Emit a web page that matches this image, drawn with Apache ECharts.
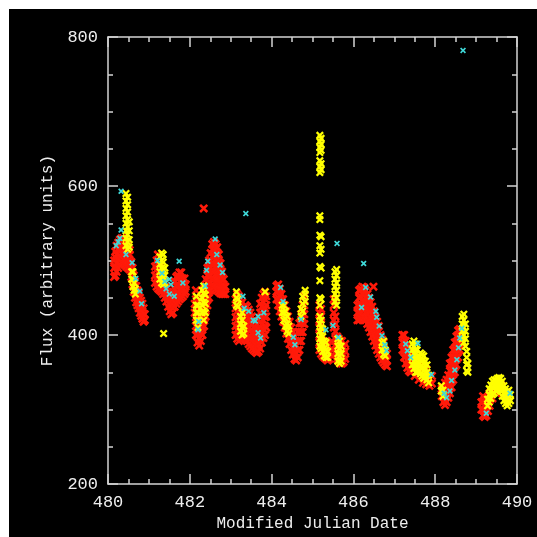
<!DOCTYPE html>
<html>
<head>
<meta charset="utf-8">
<script src="https://cdn.jsdelivr.net/npm/echarts@6/dist/echarts.min.js"></script>
<style>
  html, body { margin: 0; padding: 0; background: #fff; }
  #frame { position: absolute; left: 9px; top: 9px; width: 528px; height: 528px; background: #000; }
  #chart_flux { position: absolute; left: 0; top: 0; width: 537px; height: 537px; }
</style>
</head>
<body>
<div id="frame"></div>
<div id="chart_flux"></div>
<script>
  // each row: [MJD, flux, flux, ...]
  var redRows = [
    [480.15, 478, 490, 500], [480.18, 480, 492, 504, 512], [480.21, 485, 497, 508, 520],
    [480.25, 490, 502, 514, 524], [480.29, 495, 506, 518, 528], [480.33, 498, 510, 520, 530],
    [480.37, 496, 508, 518, 530], [480.41, 494, 504, 516, 528], [480.45, 492, 502, 512, 524],
    [480.49, 490, 500, 510, 520], [480.53, 488, 498, 508, 514], [480.57, 478, 488, 498],
    [480.60, 468, 478, 490], [480.63, 458, 468, 480], [480.66, 450, 460, 472],
    [480.69, 444, 454, 466], [480.72, 440, 450, 460], [480.75, 436, 446, 456],
    [480.78, 430, 440, 450], [480.81, 426, 436, 446], [480.84, 422, 432, 442],
    [480.87, 418, 428, 436], [480.90, 420, 428],
    [481.15, 470, 480, 492], [481.19, 465, 476, 488, 500], [481.23, 462, 472, 484, 496],
    [481.27, 460, 470, 480, 492], [481.31, 458, 468, 478], [481.35, 455, 465, 475],
    [481.39, 450, 460, 470], [481.43, 445, 455, 465], [481.47, 438, 448, 458],
    [481.51, 432, 442, 452], [481.55, 428, 438, 450], [481.59, 430, 442, 455],
    [481.63, 438, 450, 462, 472], [481.67, 442, 454, 466, 478], [481.71, 445, 456, 468, 480],
    [481.75, 448, 460, 472, 484], [481.79, 450, 462, 474, 484], [481.83, 452, 464, 476],
    [481.87, 455, 466, 476], [481.90, 458, 468],
    [482.12, 430, 442], [482.15, 400, 412, 424, 436, 448, 460], [482.19, 390, 400, 410, 420, 430, 440, 450],
    [482.23, 386, 396, 406, 416, 426], [482.27, 392, 402, 412, 422, 432], [482.31, 400, 410, 420, 430, 440, 450],
    [482.35, 412, 422, 432, 442, 452, 462], [482.39, 425, 435, 445, 455, 465, 475],
    [482.43, 440, 450, 460, 470, 480, 490], [482.47, 450, 460, 470, 480, 490, 500],
    [482.51, 460, 470, 480, 490, 500, 510], [482.55, 465, 475, 485, 495, 505, 515, 522],
    [482.59, 465, 475, 485, 495, 505, 515, 525], [482.63, 462, 472, 482, 492, 502, 512, 522],
    [482.67, 460, 470, 480, 490, 500, 510, 518], [482.71, 458, 468, 478, 488, 498, 508],
    [482.75, 456, 466, 476, 486, 496], [482.79, 455, 465, 475, 485], [482.83, 455, 465, 475],
    [482.87, 455, 465],
    [483.12, 400, 412, 424, 436, 448], [483.16, 395, 407, 420, 432, 444, 455], [483.20, 392, 404, 416, 428, 440, 452],
    [483.24, 394, 406, 418, 430, 442], [483.28, 396, 408, 420, 432, 444], [483.32, 398, 410, 422, 434],
    [483.36, 395, 406, 418, 430, 440], [483.40, 392, 402, 414, 426, 438], [483.44, 388, 398, 410, 422, 434],
    [483.48, 385, 395, 406, 418, 430], [483.52, 382, 392, 402, 414, 425], [483.56, 380, 390, 400, 410, 420],
    [483.60, 378, 388, 398, 408, 418], [483.64, 376, 386, 396, 406, 415], [483.68, 378, 388, 398, 408],
    [483.72, 382, 394, 406, 418, 430, 442], [483.76, 390, 402, 414, 426, 438, 450],
    [483.80, 396, 408, 420, 432, 444, 455], [483.84, 400, 412, 424, 436, 448, 458], [483.87, 410, 425, 440, 452],
    [484.12, 448, 458, 466], [484.16, 440, 450, 460, 468], [484.20, 432, 442, 452, 462],
    [484.24, 425, 435, 445, 455], [484.28, 418, 428, 438, 448], [484.32, 410, 420, 430, 440],
    [484.36, 402, 412, 422, 432], [484.40, 395, 405, 415, 425], [484.44, 388, 398, 408, 418],
    [484.48, 380, 390, 400, 410], [484.52, 374, 384, 394, 404], [484.56, 368, 378, 388, 398],
    [484.60, 366, 376, 386], [484.64, 370, 380, 392, 404], [484.68, 380, 392, 404, 416],
    [484.72, 392, 404, 416, 428], [484.76, 404, 416, 428, 440], [484.80, 415, 428, 440, 452],
    [485.17, 380, 390, 400, 410, 420, 430, 440], [485.21, 375, 385, 395, 405, 415, 425, 435],
    [485.25, 372, 382, 392], [485.29, 370, 380, 390], [485.33, 368, 378, 388], [485.37, 366, 374, 384],
    [485.41, 368, 378], [485.47, 372, 382, 392], [485.52, 410, 420, 430, 440, 448],
    [485.56, 375, 385, 395, 405, 415, 425], [485.60, 368, 378, 388, 398], [485.64, 365, 375, 385, 395],
    [485.68, 362, 372, 382, 392], [485.72, 362, 372, 382, 392], [485.76, 364, 374, 384], [485.80, 368, 378, 388],
    [486.10, 420, 430, 440], [486.14, 420, 430, 440, 450, 460], [486.18, 422, 432, 442, 452, 462],
    [486.22, 425, 435, 445, 455, 465], [486.26, 424, 434, 444, 454, 464], [486.30, 420, 430, 440, 450, 460],
    [486.34, 415, 425, 435, 445, 455], [486.38, 410, 420, 430, 440, 450], [486.42, 404, 414, 424, 434, 444],
    [486.46, 398, 408, 418, 428, 438], [486.50, 392, 402, 412, 422, 432], [486.54, 386, 396, 406, 416, 424],
    [486.58, 380, 390, 400, 410, 418], [486.62, 375, 385, 395, 405, 412], [486.66, 370, 380, 390, 400],
    [486.70, 366, 376, 386, 394], [486.74, 363, 372, 382, 390], [486.78, 360, 368, 378], [486.82, 358, 366, 375],
    [487.20, 380, 390, 400], [487.24, 370, 380, 390, 400], [487.28, 362, 372, 382, 392],
    [487.32, 356, 366, 376, 386], [487.36, 352, 362, 372], [487.40, 350, 360, 370],
    [487.50, 345, 355, 365], [487.60, 340, 350, 360], [487.70, 336, 346, 356],
    [487.78, 334, 344, 354], [487.86, 332, 342], [487.92, 335, 345],
    [488.16, 318, 328], [488.20, 310, 320, 330], [488.24, 306, 316, 326, 336],
    [488.28, 310, 320, 330, 340], [488.32, 316, 326, 336, 346], [488.36, 322, 332, 342, 352, 362],
    [488.40, 330, 340, 350, 360, 370], [488.44, 340, 350, 360, 370, 380], [488.48, 350, 360, 370, 380, 390],
    [488.52, 360, 370, 380, 390, 398], [488.56, 370, 380, 390, 400, 406], [488.60, 380, 390, 400, 408],
    [488.64, 390, 398, 406],
    [489.13, 300, 310], [489.17, 292, 300, 310, 318], [489.21, 290, 298, 306, 314],
    [489.25, 292, 300, 310], [489.29, 298, 306, 316], [489.33, 305, 314, 322],
    [489.40, 315, 325], [489.50, 322, 330], [489.62, 325, 332],
    [481.22, 508], [482.34, 570], [486.49, 465]
  ];

  var yellowRows = [
    [480.44, 520, 530, 540, 550, 560, 570, 580, 590], [480.48, 515, 525, 535, 545, 555, 565, 575, 585],
    [480.52, 518, 528, 540, 552], [480.58, 475, 485], [480.61, 465, 475, 485], [480.64, 460, 470],
    [480.67, 455, 462],
    [481.27, 475, 485, 495, 505], [481.31, 470, 480, 490, 500, 510], [481.35, 468, 478, 488, 498, 508],
    [481.39, 470, 480, 490], [481.36, 402],
    [482.16, 420, 430, 440, 452], [482.20, 410, 420, 430, 440], [482.30, 430, 440, 450, 460],
    [482.34, 420, 432, 444, 456, 466], [482.38, 430, 442, 454],
    [483.14, 440, 450, 458], [483.18, 438, 448], [483.24, 405, 415, 425], [483.28, 400, 410, 420, 430],
    [483.32, 402, 412], [483.84, 458],
    [484.26, 430, 440], [484.30, 420, 430, 440], [484.34, 412, 422, 432], [484.38, 405, 415, 425],
    [484.42, 402, 412], [484.72, 425, 435], [484.76, 432, 442, 452], [484.82, 445, 455, 460],
    [485.18, 668, 660, 652, 645, 634, 626, 618, 560, 555, 534, 520, 510, 492, 473, 450, 440, 425, 415, 405, 395, 385],
    [485.21, 664, 656, 648, 630, 622, 532, 515, 490, 448, 420, 410, 400, 390, 382],
    [485.25, 378, 388, 398, 408], [485.29, 372, 382, 392], [485.33, 370, 380, 390], [485.37, 370, 378],
    [485.55, 445, 455, 465, 475, 485], [485.59, 440, 450, 460, 470, 480, 488],
    [485.62, 365, 375, 385, 395], [485.66, 362, 372, 382, 392], [485.70, 365, 375, 385],
    [486.70, 380, 390], [486.74, 374, 384, 392], [486.78, 372, 380],
    [487.44, 360, 370, 380, 388], [487.48, 355, 365, 375, 385, 392], [487.52, 350, 360, 370, 380, 388],
    [487.56, 350, 360, 370, 380], [487.60, 352, 362, 372], [487.64, 348, 358, 368, 376],
    [487.68, 345, 355, 365, 374], [487.72, 342, 352, 362, 372], [487.76, 345, 355, 365],
    [487.80, 340, 350, 360], [487.84, 336, 346],
    [488.15, 325, 332], [488.19, 318, 326],
    [488.66, 395, 405, 415, 425], [488.70, 390, 400, 410, 420, 428], [488.74, 385, 395, 405, 415],
    [488.77, 352, 360, 370, 378], [488.80, 350, 362],
    [489.28, 305, 314], [489.32, 310, 320, 328], [489.36, 315, 325, 333], [489.40, 320, 330, 338],
    [489.44, 322, 332, 340], [489.48, 325, 334, 340], [489.52, 326, 335, 342], [489.56, 328, 336, 343],
    [489.60, 325, 334, 342], [489.64, 318, 328, 338], [489.68, 312, 322, 332], [489.72, 308, 318, 328],
    [489.76, 305, 314, 324], [489.80, 308, 318, 326], [489.84, 312, 320]
  ];

  var cyanPts = [
    [480.32, 593], [480.32, 541], [480.29, 530], [480.20, 520], [480.25, 525], [480.44, 508], [480.59, 497],
    [480.68, 476], [480.78, 459], [480.82, 442],
    [481.21, 500], [481.74, 499], [481.32, 483], [481.39, 472], [481.50, 475], [481.54, 468], [481.42, 462],
    [481.50, 455], [481.83, 470], [481.62, 452],
    [482.62, 529], [482.66, 508], [482.44, 499], [482.74, 494], [482.41, 487], [482.80, 484], [482.38, 466],
    [482.22, 418], [482.20, 407], [483.37, 563],
    [483.30, 452], [483.33, 436], [483.44, 432], [483.67, 425], [483.60, 419], [483.81, 430], [483.67, 403],
    [483.73, 396], [483.55, 420],
    [484.22, 464], [484.28, 445], [484.53, 397], [484.57, 387], [484.72, 421],
    [485.60, 523], [485.33, 407], [485.50, 413], [485.63, 397], [486.25, 496], [488.68, 782],
    [486.30, 464], [486.42, 451], [486.20, 437], [486.55, 432], [486.57, 424], [486.63, 412], [486.70, 399],
    [486.77, 387], [486.81, 379],
    [487.28, 388], [487.32, 379], [487.58, 389], [487.91, 347], [487.40, 370],
    [488.22, 322], [488.28, 316], [488.36, 325], [488.40, 339], [488.48, 353], [488.53, 367], [488.57, 383],
    [488.60, 396], [488.65, 409],
    [489.25, 295], [489.83, 322]
  ];

  var xTicks = { min: 480, max: 490, step: 2 };
  var yTicks = { min: 200, max: 800, step: 200 };

  function flatten (rows) {
    var out = [];
    rows.forEach(function (r) {
      for (var i = 1; i < r.length; i++) out.push([r[0], r[i]]);
    });
    return out;
  }

  var cross = 'path://M0,2L2,0L5,3L8,0L10,2L7,5L10,8L8,10L5,7L2,10L0,8L3,5Z';
  var axisColor = '#d4d4d4';
  var textColor = '#eeeeee';
  var font = 'Liberation Mono';

  function makeX (pos, withLabel) {
    return {
      type: 'value',
      position: pos,
      min: xTicks.min,
      max: xTicks.max,
      interval: xTicks.step,
      axisLine: { show: true, onZero: false, lineStyle: { color: axisColor, width: 1.5 } },
      axisTick: { show: true, inside: true, length: 10, lineStyle: { color: axisColor, width: 1.5 } },
      minorTick: { show: true, splitNumber: 4, length: 5, lineStyle: { color: axisColor, width: 1.5 } },
      splitLine: { show: false },
      axisLabel: { show: withLabel, color: textColor, fontFamily: font, fontSize: 17, margin: 10 },
      name: withLabel ? 'Modified Julian Date' : '',
      nameLocation: 'middle',
      nameGap: 31,
      nameTextStyle: { color: textColor, fontFamily: font, fontSize: 16 }
    }
  }

  function makeY (pos, withLabel) {
    return {
      type: 'value',
      position: pos,
      min: yTicks.min,
      max: yTicks.max,
      interval: yTicks.step,
      axisLine: { show: true, onZero: false, lineStyle: { color: axisColor, width: 1.5 } },
      axisTick: { show: true, inside: true, length: 10, lineStyle: { color: axisColor, width: 1.5 } },
      minorTick: { show: true, splitNumber: 4, length: 5, lineStyle: { color: axisColor, width: 1.5 } },
      splitLine: { show: false },
      axisLabel: { show: withLabel, color: textColor, fontFamily: font, fontSize: 17, margin: 10 },
      name: withLabel ? 'Flux (arbitrary units)' : '',
      nameLocation: 'middle',
      nameGap: 52,
      nameTextStyle: { color: textColor, fontFamily: font, fontSize: 16 }
    }
  }

  function scatter (name, data, color, size) {
    return {
      name: name,
      type: 'scatter',
      data: data,
      symbol: cross,
      symbolSize: size,
      itemStyle: { color: color, opacity: 1 },
      silent: true
    }
  }

  var chart = echarts.init(document.getElementById('chart_flux'))
  chart.setOption({
    backgroundColor: 'transparent',
    animation: false,
    grid: { left: 108, top: 37, width: 409, height: 450 },
    xAxis: [makeX('bottom', true), makeX('top', false)],
    yAxis: [makeY('left', true), makeY('right', false)],
    series: [
      scatter('red', flatten(redRows), '#ff1a0a', 9),
      scatter('yellow', flatten(yellowRows), '#ffff00', 8),
      scatter('cyan', cyanPts, '#3fd8d8', 6)
    ]
  })
</script>
</body>
</html>
